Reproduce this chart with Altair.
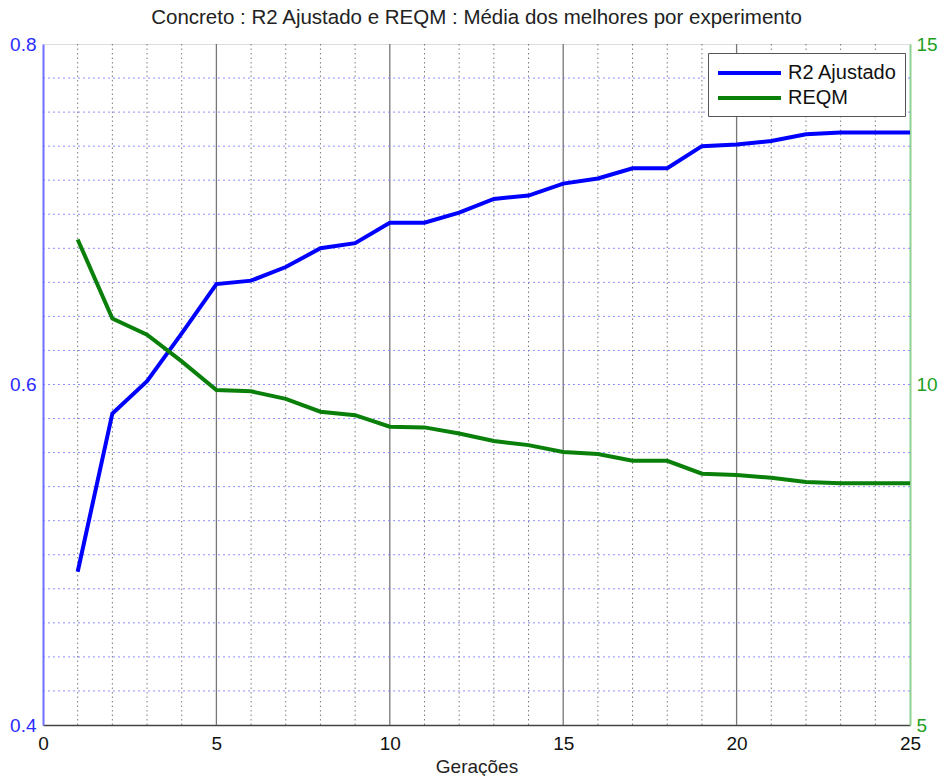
import altair as alt
import pandas as pd

# Generations and the mean of the best individuals per experiment
geracoes = list(range(1, 26))
r2_ajustado = [0.490, 0.583, 0.602, 0.630, 0.659, 0.661, 0.669, 0.680, 0.683, 0.695,
               0.695, 0.701, 0.709, 0.711, 0.718, 0.721, 0.727, 0.727, 0.740, 0.741,
               0.743, 0.747, 0.748, 0.748, 0.748]
reqm = [12.13, 10.97, 10.73, 10.34, 9.92, 9.90, 9.79, 9.60, 9.55, 9.38,
        9.37, 9.28, 9.17, 9.11, 9.01, 8.98, 8.88, 8.88, 8.69, 8.67,
        8.63, 8.57, 8.55, 8.55, 8.55]

series = ["R2 Ajustado", "REQM"]
x_ticks = [0, 5, 10, 15, 20, 25]
left_ticks = [0.4, 0.6, 0.8]
right_ticks = [5, 10, 15]

# grid positions
grid_x_minor = [i for i in range(1, 25) if i % 5]
grid_x_major = [5, 10, 15, 20]
grid_y = [round(0.42 + 0.02 * k, 2) for k in range(19)]

FONT = "Liberation Sans"
BLUE = "#0000ff"
GREEN = "#0a800a"

df_r2 = pd.DataFrame({"g": geracoes, "v": r2_ajustado, "serie": series[0]})
df_reqm = pd.DataFrame({"g": geracoes, "v": reqm, "serie": series[1]})

x_enc = alt.X("g:Q", scale=alt.Scale(domain=[0, 25], nice=False, zero=False),
              axis=alt.Axis(values=x_ticks, title="Gerações", grid=False, ticks=False,
                            domainColor="#444", domainWidth=1.5, labelColor="#111",
                            labelFontSize=19, labelFont=FONT, labelPadding=9,
                            titleFont=FONT, titleFontSize=19, titleFontWeight="normal",
                            titleColor="#222", titlePadding=4, labelFlush=False))

left_scale = alt.Scale(domain=[0.4, 0.8], nice=False, zero=False)
left_axis = alt.Axis(values=left_ticks, orient="left", title=None, grid=False, ticks=False,
                     domainColor="#7070ff", domainWidth=2, labelColor="#2a2aff",
                     labelFontSize=19, labelFont=FONT, labelPadding=7, format=".1f",
                     labelFlush=False)
right_scale = alt.Scale(domain=[5, 15], nice=False, zero=False)
right_axis = alt.Axis(values=right_ticks, orient="right", title=None, grid=False, ticks=False,
                      domainColor="#90d090", domainWidth=2, labelColor="#22a022",
                      labelFontSize=19, labelFont=FONT, labelPadding=6, labelFlush=False)

# legend line swatch: a long horizontal stroke drawn to the right of the symbol centre
color = alt.Color("serie:N",
                  scale=alt.Scale(domain=series, range=[BLUE, GREEN]),
                  legend=alt.Legend(title=None, orient="none", legendX=665, legendY=9,
                                    fillColor="white", strokeColor="#555", padding=8,
                                    symbolType="M-1,0H5.3", symbolSize=400,
                                    symbolStrokeWidth=4, labelFont=FONT,
                                    labelFontSize=20, labelColor="#111", labelOffset=48,
                                    rowPadding=3))

minor_v = alt.Chart(pd.DataFrame({"g": grid_x_minor})).mark_rule(
    color="#444", strokeDash=[1.5, 3], strokeWidth=1, opacity=0.7
).encode(x=alt.X("g:Q"))

major_v = alt.Chart(pd.DataFrame({"g": grid_x_major})).mark_rule(
    color="#777", strokeWidth=1.3
).encode(x=alt.X("g:Q"))

h_grid = alt.Chart(pd.DataFrame({"v": grid_y})).mark_rule(
    color="#6a6aff", strokeDash=[2, 3], strokeWidth=1, opacity=0.75
).encode(y=alt.Y("v:Q", scale=left_scale, axis=left_axis))

line_r2 = alt.Chart(df_r2).mark_line(strokeWidth=4).encode(
    x=x_enc, y=alt.Y("v:Q", scale=left_scale, axis=left_axis), color=color
)

line_reqm = alt.Chart(df_reqm).mark_line(strokeWidth=4).encode(
    x=alt.X("g:Q"), y=alt.Y("v:Q", scale=right_scale, axis=right_axis), color=color
)

left_layer = alt.layer(h_grid, line_r2)

chart = alt.layer(minor_v, major_v, left_layer, line_reqm).resolve_scale(
    y="independent"
).properties(
    width=867, height=681,
    autosize=alt.AutoSizeParams(type="none"),
    padding={"left": 43, "top": 44, "right": 30, "bottom": 51},
    title=alt.Title("Concreto : R2 Ajustado e REQM : Média dos melhores por experimento",
                    font=FONT, fontSize=20.5, fontWeight="normal", color="#222",
                    anchor="middle", offset=7),
).configure_view(stroke="#666", strokeWidth=1.2).configure(background="white")

chart.save("out.html", embed_options={"renderer": "svg", "actions": False})
